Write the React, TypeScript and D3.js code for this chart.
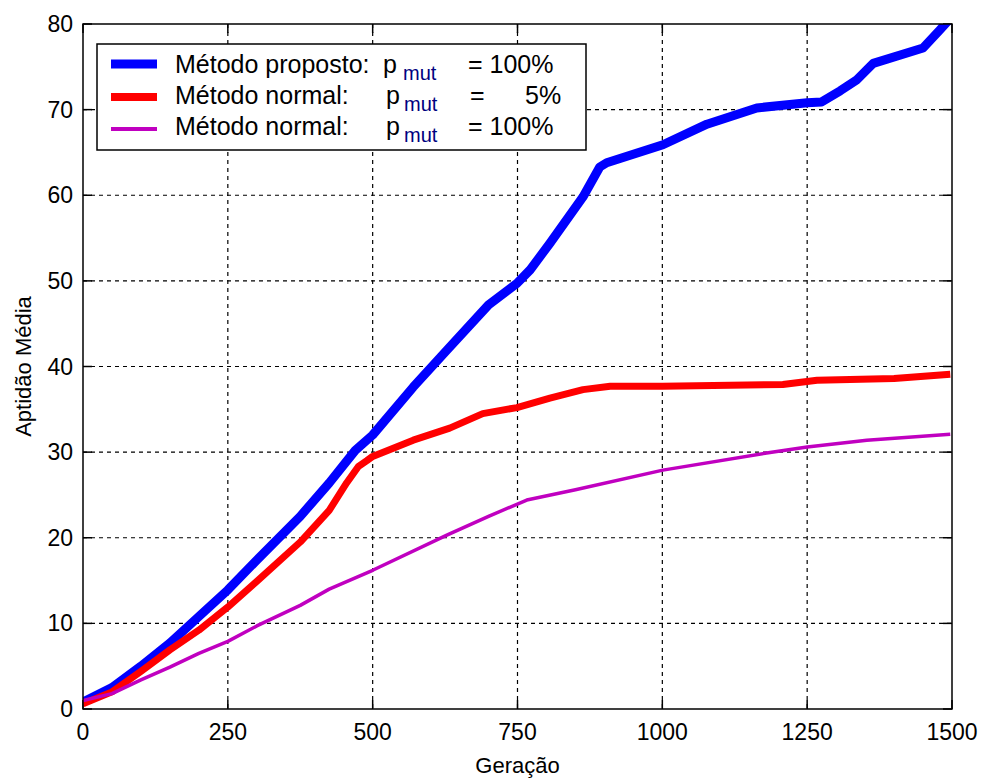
import React from 'react';
import * as d3 from 'd3';

// generation values
const blueX = [0, 50, 100, 150, 200, 250, 300, 375, 425, 470, 500, 570, 628, 700, 749, 772, 806, 863, 892, 904, 1001, 1077, 1163, 1250, 1275, 1307, 1336, 1364, 1450, 1479, 1495];
const blueY = [0.8, 2.5, 5.0, 7.7, 10.8, 13.9, 17.4, 22.5, 26.4, 30.2, 32.0, 37.6, 41.9, 47.2, 49.7, 51.3, 54.4, 59.8, 63.3, 63.8, 65.9, 68.3, 70.2, 70.8, 70.9, 72.2, 73.5, 75.4, 77.2, 79.3, 80.5];

const redX = [0, 50, 100, 150, 200, 250, 300, 375, 425, 455, 475, 490, 500, 570, 633, 690, 749, 806, 863, 910, 1000, 1208, 1267, 1400, 1497];
const redY = [0.6, 2.0, 4.4, 6.9, 9.2, 11.9, 14.9, 19.5, 23.2, 26.4, 28.3, 29.0, 29.5, 31.4, 32.8, 34.5, 35.2, 36.3, 37.3, 37.7, 37.7, 37.9, 38.4, 38.6, 39.1];

const magX = [0, 50, 100, 150, 200, 250, 300, 375, 425, 500, 628, 700, 766, 850, 1001, 1180, 1250, 1353, 1497];
const magY = [1.0, 1.8, 3.4, 4.9, 6.5, 7.9, 9.7, 12.1, 14.0, 16.2, 20.3, 22.5, 24.4, 25.6, 27.9, 29.9, 30.6, 31.4, 32.1];

const xTicks = [0, 250, 500, 750, 1000, 1250, 1500];
const yTicks = [0, 10, 20, 30, 40, 50, 60, 70, 80];

const W = 982;
const H = 778;
const left = 83, right = 952, top = 24, bottom = 709;
const font = 'Arial, "Liberation Sans", sans-serif';

const x = d3.scaleLinear().domain([0, 1500]).range([left, right]);
const y = d3.scaleLinear().domain([0, 80]).range([bottom, top]);

const line = d3.line<[number, number]>()
  .x(d => x(d[0]))
  .y(d => y(d[1]));

const zip = (xs: number[], ys: number[]) => xs.map((v, i) => [v, ys[i]] as [number, number]);

const series = [
  { name: 'blue', color: '#0000ff', width: 9, pts: zip(blueX, blueY) },
  { name: 'red', color: '#ff0000', width: 7, pts: zip(redX, redY) },
  { name: 'magenta', color: '#c000c0', width: 3.5, pts: zip(magX, magY) },
];

const App: React.FC = () => {
  const tick = 9;
  return (
    <svg width={W} height={H} style={{ position: 'absolute', left: 0, top: 0, background: '#fff' }} fontFamily={font}>
      <defs>
        <clipPath id="plot">
          <rect x={left} y={top} width={right - left} height={bottom - top} />
        </clipPath>
      </defs>

      {/* grid */}
      {xTicks.slice(1, -1).map(t => (
        <line key={'gx' + t} x1={x(t)} x2={x(t)} y1={top} y2={bottom} stroke="#000" strokeWidth={1.2} strokeDasharray="4,4" />
      ))}
      {yTicks.slice(1, -1).map(t => (
        <line key={'gy' + t} x1={left} x2={right} y1={y(t)} y2={y(t)} stroke="#000" strokeWidth={1.2} strokeDasharray="4,4" />
      ))}

      {/* ticks on all four sides */}
      {xTicks.map(t => (
        <g key={'tx' + t}>
          <line x1={x(t)} x2={x(t)} y1={bottom} y2={bottom - tick} stroke="#000" strokeWidth={1.5} />
          <line x1={x(t)} x2={x(t)} y1={top} y2={top + tick} stroke="#000" strokeWidth={1.5} />
          <text x={x(t)} y={740} textAnchor="middle" fontSize={23} fill="#000">{t}</text>
        </g>
      ))}
      {yTicks.map(t => (
        <g key={'ty' + t}>
          <line x1={left} x2={left + tick} y1={y(t)} y2={y(t)} stroke="#000" strokeWidth={1.5} />
          <line x1={right} x2={right - tick} y1={y(t)} y2={y(t)} stroke="#000" strokeWidth={1.5} />
          <text x={73} y={y(t) + 8} textAnchor="end" fontSize={23} fill="#000">{t}</text>
        </g>
      ))}

      {/* curves */}
      <g clipPath="url(#plot)">
        {series.map(s => (
          <path key={s.name} d={line(s.pts) || ''} fill="none" stroke={s.color} strokeWidth={s.width} strokeLinejoin="round" />
        ))}
      </g>

      {/* frame */}
      <rect x={left} y={top} width={right - left} height={bottom - top} fill="none" stroke="#000" strokeWidth={1.5} />

      {/* legend */}
      <rect x={97} y={44} width={489} height={106} fill="#fff" stroke="#000" strokeWidth={1.5} />
      <line x1={111} x2={157} y1={64} y2={64} stroke="#0000ff" strokeWidth={9} />
      <line x1={111} x2={157} y1={97} y2={97} stroke="#ff0000" strokeWidth={8} />
      <line x1={111} x2={157} y1={129} y2={129} stroke="#c000c0" strokeWidth={4} />
      <g fontSize={25} fill="#000">
        <text x={175} y={73}>Método proposto:</text>
        <text x={383} y={73}>p</text>
        <text x={403} y={80} fontSize={20} fill="#000080">mut</text>
        <text x={468} y={73}>= 100%</text>

        <text x={175} y={104}>Método normal:</text>
        <text x={386} y={104}>p</text>
        <text x={404} y={111} fontSize={20} fill="#000080">mut</text>
        <text x={470} y={104}>=</text>
        <text x={525} y={104}>5%</text>

        <text x={175} y={135}>Método normal:</text>
        <text x={386} y={135}>p</text>
        <text x={404} y={142} fontSize={20} fill="#000080">mut</text>
        <text x={468} y={135}>= 100%</text>
      </g>

      {/* axis labels */}
      <text x={(left + right) / 2} y={773} textAnchor="middle" fontSize={22} fill="#000">Geração</text>
      <text transform={`translate(31,${(top + bottom) / 2}) rotate(-90)`} textAnchor="middle" fontSize={22} fill="#000">Aptidão Média</text>
    </svg>
  );
};

export default App;
